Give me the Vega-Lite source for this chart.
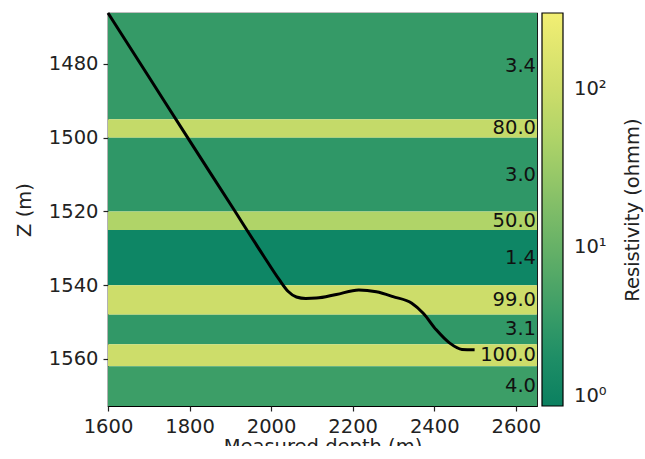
{
  "$schema": "https://vega.github.io/schema/vega-lite/v6.json",
  "width": 429,
  "height": 393,
  "autosize": "none",
  "padding": {"left": 108, "top": 13, "right": 108, "bottom": 40},
  "background": "white",
  "config": {
    "font": "DejaVu Sans",
    "view": {"stroke": "#000000", "strokeWidth": 1.2},
    "axis": {
      "labelFont": "DejaVu Sans", "titleFont": "DejaVu Sans",
      "labelFontSize": 19.5, "titleFontSize": 19.5,
      "labelColor": "#222222", "titleColor": "#222222",
      "titleFontWeight": "normal",
      "grid": false, "domain": false,
      "labelFlush": false, "labelOverlap": false,
      "tickColor": "#222222", "tickSize": 5, "tickWidth": 1.2
    },
    "legend": {
      "labelFont": "DejaVu Sans", "titleFont": "DejaVu Sans",
      "labelFontSize": 19.5, "titleFontSize": 19.5,
      "labelColor": "#222222", "titleColor": "#222222",
      "titleFontWeight": "normal"
    }
  },
  "datasets": {
    "layers": [
      {"top": 1440, "bottom": 1495, "rho": 3.4},
      {"top": 1495, "bottom": 1500, "rho": 80.0},
      {"top": 1500, "bottom": 1520, "rho": 3.0},
      {"top": 1520, "bottom": 1525, "rho": 50.0},
      {"top": 1525, "bottom": 1540, "rho": 1.4},
      {"top": 1540, "bottom": 1548, "rho": 99.0},
      {"top": 1548, "bottom": 1556, "rho": 3.1},
      {"top": 1556, "bottom": 1562, "rho": 100.0},
      {"top": 1562, "bottom": 1600, "rho": 4.0}
    ],
    "labels": [
      {"z": 1480.6, "txt": "3.4"},
      {"z": 1497.5, "txt": "80.0"},
      {"z": 1510, "txt": "3.0"},
      {"z": 1522.5, "txt": "50.0"},
      {"z": 1532.5, "txt": "1.4"},
      {"z": 1544, "txt": "99.0"},
      {"z": 1552, "txt": "3.1"},
      {"z": 1559, "txt": "100.0"},
      {"z": 1567.4, "txt": "4.0"}
    ],
    "well": [
      {"md": 1600, "z": 1466.2},
      {"md": 1700, "z": 1483.5},
      {"md": 1800, "z": 1500.8},
      {"md": 1900, "z": 1518.0},
      {"md": 1980, "z": 1531.8},
      {"md": 2020, "z": 1538.5},
      {"md": 2042, "z": 1541.7},
      {"md": 2062, "z": 1543.2},
      {"md": 2085, "z": 1543.6},
      {"md": 2111, "z": 1543.5},
      {"md": 2160, "z": 1542.5},
      {"md": 2215, "z": 1541.3},
      {"md": 2258, "z": 1541.8},
      {"md": 2299, "z": 1543.1},
      {"md": 2345, "z": 1544.9},
      {"md": 2373, "z": 1547.6},
      {"md": 2405, "z": 1552.1},
      {"md": 2438, "z": 1555.7},
      {"md": 2468, "z": 1557.4},
      {"md": 2499, "z": 1557.5}
    ]
  },
  "layer": [
    {
      "data": {"name": "layers"},
      "mark": {"type": "rect", "clip": true},
      "encoding": {
        "y": {
          "field": "top", "type": "quantitative",
          "scale": {"domain": [1466.2, 1572.75], "reverse": true, "nice": false, "zero": false},
          "axis": {"values": [1480, 1500, 1520, 1540, 1560], "format": "d", "title": "Z (m)", "titlePadding": 14, "labelPadding": 5}
        },
        "y2": {"field": "bottom"},
        "color": {
          "field": "rho", "type": "quantitative",
          "scale": {
            "type": "log",
            "domain": [1, 1.4, 3.4, 50, 100, 300],
            "range": ["#0b8060", "#0e8665", "#359a67", "#b0d468", "#cddd6a", "#f2ef73"],
            "interpolate": "rgb"
          },
          "legend": {
            "title": "Resistivity (ohmm)",
            "titleOrient": "right",
            "titleAngle": 270,
            "titleAnchor": "middle",
            "titleLimit": 500,
            "titlePadding": 36,
            "values": [1, 10, 100],
            "labelExpr": "datum.value == 1 ? '10⁰' : datum.value == 10 ? '10¹' : '10²'",
            "gradientLength": 393,
            "gradientThickness": 21,
            "gradientStrokeColor": "#000000",
            "gradientStrokeWidth": 1.2,
            "labelOffset": 11,
            "offset": 5,
            "padding": 0,
            "encode": {"title": {"update": {"angle": {"value": 270}}}}
          }
        }
      }
    },
    {
      "data": {"name": "labels"},
      "mark": {"type": "text", "align": "right", "baseline": "middle", "fontSize": 19.5, "color": "#111111", "dx": -1},
      "encoding": {
        "y": {"field": "z", "type": "quantitative"},
        "x": {"datum": 2652},
        "text": {"field": "txt"}
      }
    },
    {
      "data": {"name": "well"},
      "mark": {"type": "line", "color": "#000000", "strokeWidth": 3, "interpolate": "monotone"},
      "encoding": {
        "x": {
          "field": "md", "type": "quantitative",
          "scale": {"domain": [1600, 2652], "nice": false, "zero": false},
          "axis": {"values": [1600, 1800, 2000, 2200, 2400, 2600], "format": "d", "title": "Measured depth (m)", "titlePadding": 2, "labelPadding": 6}
        },
        "y": {"field": "z", "type": "quantitative"}
      }
    }
  ]
}
